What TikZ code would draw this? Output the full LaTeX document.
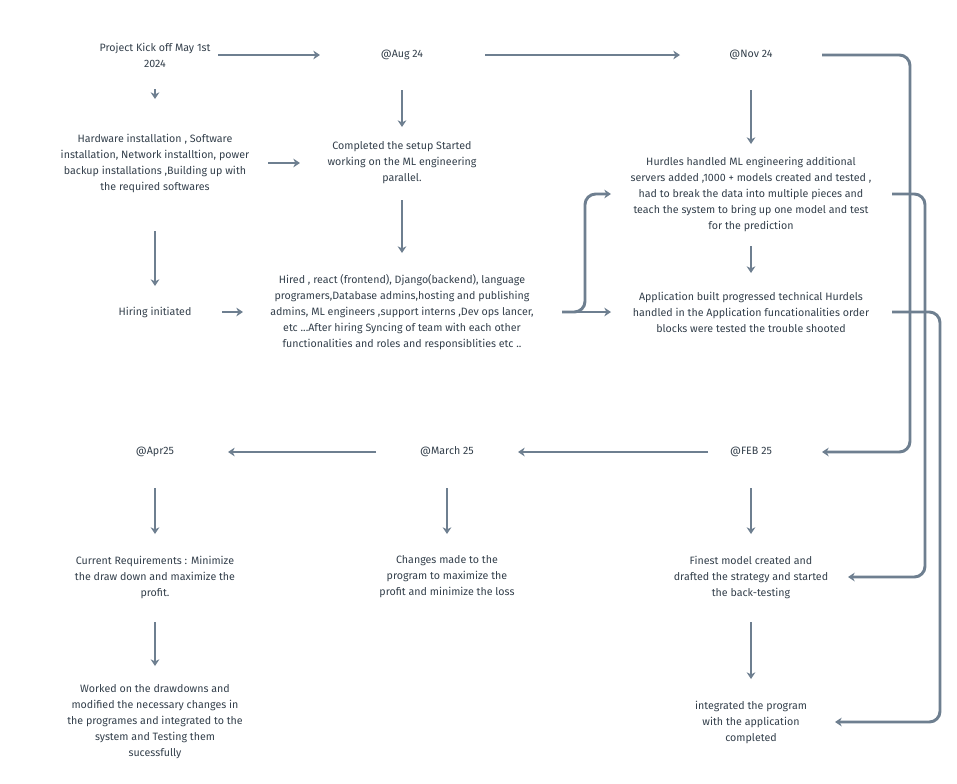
\documentclass[tikz,border=0pt]{standalone}
\usepackage{fontspec}
\setmainfont{Fira Sans}
\usetikzlibrary{arrows.meta}
\definecolor{ar}{HTML}{6E7F90}
\definecolor{tx}{HTML}{34404C}
\begin{document}
\begin{tikzpicture}[x=0.75pt,y=-0.75pt,
  t/.style={text=tx,align=center,font=\fontsize{8}{12}\selectfont},
  a/.style={draw=ar,line width=2.2pt,rounded corners=8pt,-{Stealth[length=5pt,width=6.5pt]}}]
\useasboundingbox[fill=white] (0,0) rectangle (957,783);
\node[t] (kick) at (155,55) {Project Kick off May 1st\\2024};
\node[t] (aug) at (402,55) {@Aug 24};
\node[t] (nov) at (751,55) {@Nov 24};
\node[t] (hw) at (155,163) {Hardware installation , Software\\installation, Network installtion, power\\backup installations ,Building up with\\the required softwares};
\node[t] (setup) at (402,163) {Completed the setup Started\\working on the ML engineering\\parallel.};
\node[t] (hur) at (751,194) {Hurdles handled ML engineering additional\\servers added ,1000 + models created and tested ,\\had to break the data into multiple pieces and\\teach the system to bring up one model and test\\for the prediction};
\node[t] (hiring) at (155,312) {Hiring initiated};
\node[t] (hired) at (402,312) {Hired , react (frontend), Django(backend), language\\programers,Database admins,hosting and publishing\\admins, ML engineers ,support interns ,Dev ops lancer,\\etc ...After hiring Syncing of team with each other\\functionalities and roles and responsiblities etc ..};
\node[t] (app) at (751,312) {Application built progressed technical Hurdels\\handled in the Application funcationalities order\\blocks were tested the trouble shooted};
\node[t] (apr) at (155,452) {@Apr25};
\node[t] (mar) at (447,452) {@March 25};
\node[t] (feb) at (751,452) {@FEB 25};
\node[t] (cur) at (155,577) {Current Requirements : Minimize\\the draw down and maximize the\\profit.};
\node[t] (chg) at (447,577) {Changes made to the\\program to maximize the\\profit and minimize the loss};
\node[t] (fin) at (751,577) {Finest model created and\\drafted the strategy and started\\the back-testing};
\node[t] (wrk) at (155,722) {Worked on the drawdowns and\\modified the necessary changes in\\the programes and integrated to the\\system and Testing them\\sucessfully};
\node[t] (int) at (751,722) {integrated the program\\with the application\\completed};
\draw[a] (218,55) -- (320,55);
\draw[a] (485,55) -- (680,55);
\draw[a] (155,89) -- (155,99);
\draw[a] (402,90) -- (402,127);
\draw[a] (751,90) -- (751,144);
\draw[a] (268,163) -- (300,163);
\draw[a] (155,231) -- (155,286);
\draw[a] (402,200) -- (402,253);
\draw[a] (222,312) -- (243,312);
\draw[a] (562,312) -- (585,312) -- (585,194) -- (611,194);
\draw[a] (562,312) -- (611,312);
\draw[a] (751,246) -- (751,273);
\draw[a] (822,55) -- (910,55) -- (910,452) -- (822,452);
\draw[a] (892,194) -- (925,194) -- (925,577) -- (848,577);
\draw[a] (892,312) -- (940,312) -- (940,722) -- (835,722);
\draw[a] (708,452) -- (518,452);
\draw[a] (376,452) -- (228,452);
\draw[a] (155,488) -- (155,534);
\draw[a] (447,488) -- (447,534);
\draw[a] (751,488) -- (751,534);
\draw[a] (155,622) -- (155,666);
\draw[a] (751,622) -- (751,679);
\end{tikzpicture}
\end{document}
